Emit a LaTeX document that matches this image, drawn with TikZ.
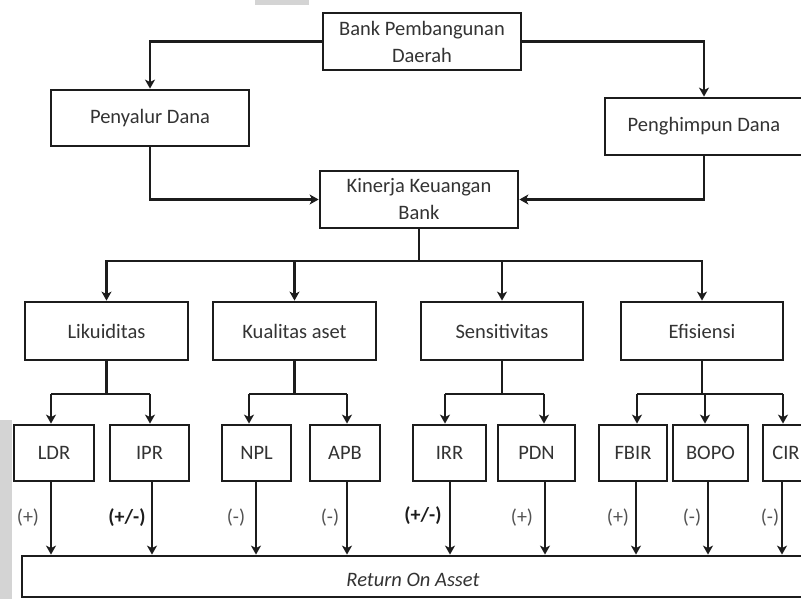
\documentclass[tikz,border=0pt]{standalone}
\usepackage{fontspec}
\setmainfont{Carlito}
\usetikzlibrary{arrows.meta,calc}
\definecolor{ln}{HTML}{1C1C1C}
\definecolor{tx}{HTML}{333333}
\definecolor{scan}{HTML}{D4D4D4}
\begin{document}
\begin{tikzpicture}[x=1pt,y=-1pt,
  box/.style={draw=ln, line width=2.8pt, rectangle, inner sep=0pt, text=tx,
              font=\fontsize{20.5}{27}\selectfont, align=center},
  con/.style={draw=ln, line width=2.8pt, line join=miter},
  arr/.style={-{Stealth[length=9pt,width=10pt,inset=2.5pt]}},
  sgn/.style={text=tx!85, font=\fontsize{20}{22}\selectfont, inner sep=0pt},
  sgnb/.style={text=ln, font=\bfseries\fontsize{20}{22}\selectfont, inner sep=0pt}]
\useasboundingbox (0,0) rectangle (801,599);
\fill[white] (0,0) rectangle (801,599);
\fill[scan] (0,420) rectangle (12,599);
\fill[scan] (255,0) rectangle (309,5);

% level 0/1
\node[box, minimum width=198pt, minimum height=57pt] (bank) at (422,41.5) {Bank Pembangunan\\Daerah};
\node[box, minimum width=198pt, minimum height=56pt] (pny) at (150,118) {Penyalur Dana};
\node[box, minimum width=198pt, minimum height=57pt] (phm) at (704,126.5) {Penghimpun Dana};
\node[box, minimum width=198pt, minimum height=57pt] (kin) at (419,199.5) {Kinerja Keuangan\\Bank};

% level 2
\node[box, minimum width=163pt, minimum height=58pt] (lik) at (106.5,331) {Likuiditas};
\node[box, minimum width=163pt, minimum height=58pt] (kua) at (294.5,331) {Kualitas aset};
\node[box, minimum width=162pt, minimum height=58pt] (sen) at (502,331) {Sensitivitas};
\node[box, minimum width=162pt, minimum height=58pt] (efi) at (702,331) {Efisiensi};

% level 3
\node[box, minimum width=80pt, minimum height=56pt] (ldr) at (54,453) {LDR};
\node[box, minimum width=79pt, minimum height=56pt] (ipr) at (149.5,453) {IPR};
\node[box, minimum width=69pt, minimum height=56pt] (npl) at (256.5,453) {NPL};
\node[box, minimum width=70pt, minimum height=56pt] (apb) at (345,453) {APB};
\node[box, minimum width=73pt, minimum height=56pt] (irr) at (449.5,453) {IRR};
\node[box, minimum width=77pt, minimum height=56pt] (pdn) at (536.5,453) {PDN};
\node[box, minimum width=68pt, minimum height=56pt] (fbir) at (633,453) {FBIR};
\node[box, minimum width=75pt, minimum height=56pt] (bopo) at (710.5,453) {BOPO};
\node[box, minimum width=46pt, minimum height=56pt] (cir) at (786,453) {CIR};

% bottom
\node[box, minimum width=818pt, minimum height=41pt] (roa) at (431,576.5) {};
\node[text=tx, font=\itshape\fontsize{20.5}{24}\selectfont, inner sep=0pt] (roat) at (413,580) {Return On Asset};

% top connectors
\draw[con,arr] (bank.west) -| (pny.north);
\draw[con,arr] (bank.east) -| (phm.north);
\draw[con,arr] (pny.south) |- (kin.west);
\draw[con,arr] (phm.south) |- (kin.east);

% bus from kinerja
\coordinate (k0) at (419,261);
\draw[con] (kin.south) -- (k0);
\draw[con,arr] (k0) -| (lik.north);
\draw[con,arr] (k0) -| (kua.north);
\draw[con,arr] (k0) -| (sen.north);
\draw[con,arr] (k0) -| (efi.north);

% sub-buses
\coordinate (a1) at (51,394);
\coordinate (a2) at (150,394);
\coordinate (a3) at (249,394);
\coordinate (a4) at (347,394);
\coordinate (a5) at (445,394);
\coordinate (a6) at (544,394);
\coordinate (a7) at (637,394);
\coordinate (a8) at (705,394);
\coordinate (a9) at (783,394);
\draw[con] (lik.south) -- (lik.south |- a1);
\draw[con] (kua.south) -- (kua.south |- a3);
\draw[con] (sen.south) -- (sen.south |- a5);
\draw[con] (efi.south) -- (efi.south |- a7);
\draw[con] (a1) -- (a2);
\draw[con] (a3) -- (a4);
\draw[con] (a5) -- (a6);
\draw[con] (a7) -- (a9);
\draw[con,arr] (a1) -- (a1 |- ldr.north);
\draw[con,arr] (a2) -- (a2 |- ipr.north);
\draw[con,arr] (a3) -- (a3 |- npl.north);
\draw[con,arr] (a4) -- (a4 |- apb.north);
\draw[con,arr] (a5) -- (a5 |- irr.north);
\draw[con,arr] (a6) -- (a6 |- pdn.north);
\draw[con,arr] (a7) -- (a7 |- fbir.north);
\draw[con,arr] (a8) -- (a8 |- bopo.north);
\draw[con,arr] (a9) -- (a9 |- cir.north);

% arrows to ROA
\coordinate (c1) at (51,0);
\coordinate (c2) at (152,0);
\coordinate (c3) at (256,0);
\coordinate (c4) at (347,0);
\coordinate (c5) at (450,0);
\coordinate (c6) at (545,0);
\coordinate (c7) at (636,0);
\coordinate (c8) at (708,0);
\coordinate (c9) at (782,0);
\draw[con,arr] (c1 |- ldr.south) -- (c1 |- roa.north);
\draw[con,arr] (c2 |- ipr.south) -- (c2 |- roa.north);
\draw[con,arr] (c3 |- npl.south) -- (c3 |- roa.north);
\draw[con,arr] (c4 |- apb.south) -- (c4 |- roa.north);
\draw[con,arr] (c5 |- irr.south) -- (c5 |- roa.north);
\draw[con,arr] (c6 |- pdn.south) -- (c6 |- roa.north);
\draw[con,arr] (c7 |- fbir.south) -- (c7 |- roa.north);
\draw[con,arr] (c8 |- bopo.south) -- (c8 |- roa.north);
\draw[con,arr] (c9 |- cir.south) -- (c9 |- roa.north);

% sign labels
\node[sgn]  (s1) at (28,518) {(+)};
\node[sgnb] (s2) at (127,518) {(+/-)};
\node[sgn]  (s3) at (236,518) {(-)};
\node[sgn]  (s4) at (330,518) {(-)};
\node[sgnb] (s5) at (423,516) {(+/-)};
\node[sgn]  (s6) at (522,518) {(+)};
\node[sgn]  (s7) at (618,518) {(+)};
\node[sgn]  (s8) at (692,518) {(-)};
\node[sgn]  (s9) at (770,518) {(-)};
\end{tikzpicture}
\end{document}
